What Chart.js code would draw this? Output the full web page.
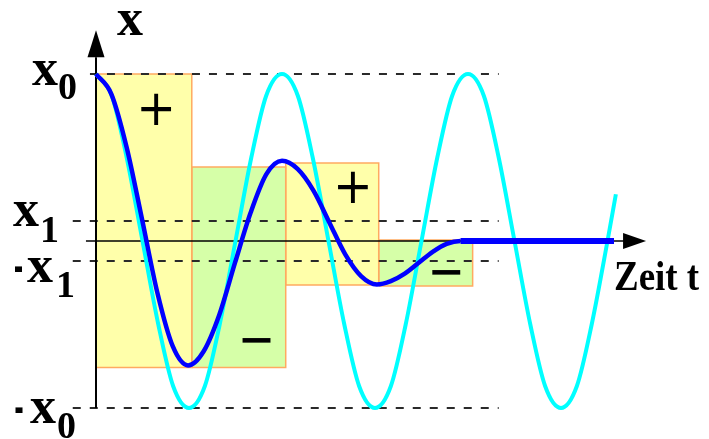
<!DOCTYPE html>
<html>
<head>
<meta charset="utf-8">
<script src="https://cdn.jsdelivr.net/npm/chart.js@4.4.0/dist/chart.umd.min.js"></script>
<style>
  html, body { margin: 0; padding: 0; background: #fff; }
  #wrap { width: 709px; height: 439px; }
</style>
</head>
<body>
<div id="wrap"><canvas id="chart"></canvas></div>
<script>
// Zeit in halben Perioden, Auslenkung in Einheiten von x0
const levels = [1, 0.12, -0.12, -1];
const levelLabels = [['', 'x', '0'], ['', 'x', '1'], ['-', 'x', '1'], ['-', 'x', '0']];

// freie Schwingung ohne Reibung
const freeT = [0, 0.17, 0.33, 0.5, 0.67, 0.83, 1, 1.17, 1.33, 1.5, 1.67, 1.83,
               2, 2.17, 2.33, 2.5, 2.67, 2.83, 3, 3.17, 3.33, 3.5, 3.67, 3.83,
               4, 4.17, 4.33, 4.5, 4.67, 4.83, 5, 5.17, 5.33, 5.5, 5.59];
const freeX = [1, 0.87, 0.5, 0, -0.5, -0.87, -1, -0.87, -0.5, 0, 0.5, 0.87,
               1, 0.87, 0.5, 0, -0.5, -0.87, -1, -0.87, -0.5, 0, 0.5, 0.87,
               1, 0.87, 0.5, 0, -0.5, -0.87, -1, -0.87, -0.5, 0, 0.28];

// Schwingung mit Reibung: Amplitude nimmt je Halbperiode um 2·x1 ab
const dampT = [0, 0.165, 0.33, 0.495, 0.66, 0.825, 0.99, 1.158, 1.327, 1.495, 1.663, 1.832,
               2, 2.17, 2.34, 2.51, 2.68, 2.85, 3.02, 3.17, 3.32, 3.47, 3.62, 3.77, 3.92, 5.57];
const dampX = [1, 0.88, 0.56, 0.13, -0.31, -0.63, -0.745, -0.66, -0.44, -0.13, 0.17, 0.4,
               0.48, 0.43, 0.3, 0.11, -0.08, -0.21, -0.26, -0.24, -0.195, -0.13, -0.065, -0.017, 0, 0];

// Flächen je Halbperiode
const areaT = [[0, 1.03], [1.03, 2.04], [2.04, 3.04], [3.04, 4.05]];
const areaX = [[-0.757, 1], [-0.757, 0.443], [-0.263, 0.467], [-0.269, 0.006]];
const areaSigns = ['+', '\u2212', '+', '\u2212'];

const levelStart = [-0.065, -0.25, -0.25, -0.25];
const levelEnd = 4.33;

const pts = (ts, xs) => ts.map((t, i) => ({ x: t, y: xs[i] }));

const datasets = [];
datasets.push({
  data: pts(dampT, dampX),
  borderColor: '#0000ff',
  borderWidth: 4.5,
  cubicInterpolationMode: 'monotone',
  segment: { borderWidth: c => c.p0.parsed.x >= 3.9 ? 6 : undefined },
  order: 0
});
datasets.push({
  data: pts(freeT, freeX),
  borderColor: '#00ffff',
  borderWidth: 4,
  cubicInterpolationMode: 'monotone',
  order: 1
});
// Achsen
datasets.push({ data: [{ x: 0, y: -1 }, { x: 0, y: 1.1 }], borderColor: '#000', borderWidth: 2, order: 2 });
datasets.push({ data: [{ x: -0.108, y: 0 }, { x: 5.7, y: 0 }], borderColor: '#000', borderWidth: 1.5, order: 2 });
levels.forEach((v, i) => {
  datasets.push({
    data: [{ x: levelStart[i], y: v }, { x: levelEnd, y: v }],
    borderColor: '#2a2a2a',
    borderWidth: 2,
    borderDash: [8, 9],
    order: 3
  });
});
areaT.forEach((t, i) => {
  const [x0, x1] = areaX[i];
  datasets.push({
    data: [{ x: t[0], y: x0 }, { x: t[1], y: x0 }, { x: t[1], y: x1 }, { x: t[0], y: x1 }, { x: t[0], y: x0 }],
    borderColor: '#ffaa60',
    borderWidth: 1.5,
    backgroundColor: i % 2 ? '#d6ffa8' : '#ffffaa',
    fill: 'shape',
    order: 4
  });
});

// Text in ein Rechteck einpassen
function drawFitted(ctx, text, font, cx, cy, w, h) {
  ctx.save();
  ctx.font = font;
  const m = ctx.measureText(text);
  const gw = m.actualBoundingBoxLeft + m.actualBoundingBoxRight;
  const gh = m.actualBoundingBoxAscent + m.actualBoundingBoxDescent;
  ctx.translate(cx, cy);
  ctx.scale(w / gw, h / gh);
  ctx.fillText(text, -(m.actualBoundingBoxRight - m.actualBoundingBoxLeft) / 2,
               (m.actualBoundingBoxAscent - m.actualBoundingBoxDescent) / 2);
  ctx.restore();
}

const signPos = [[0.645, 0.79], [1.73, -0.593], [2.76, 0.323], [3.77, -0.19]];
const labelLayout = [
  { dash: 0, x: 32, base: 11, sub: 58, subBase: 25 },
  { dash: 0, x: 13, base: 5, sub: 40, subBase: 21 },
  { dash: 18.5, x: 27, base: 21, sub: 56, subBase: 36 },
  { dash: 19, x: 30, base: 15, sub: 57, subBase: 30 }
];

const decor = {
  id: 'decor',
  afterDraw(chart) {
    const ctx = chart.ctx;
    const xs = chart.scales.x, ys = chart.scales.y;
    const ox = xs.getPixelForValue(0), oy = ys.getPixelForValue(0);
    ctx.save();
    ctx.fillStyle = '#000';

    // Pfeilspitzen
    const topY = ys.getPixelForValue(1.1);
    ctx.beginPath();
    ctx.moveTo(ox, topY - 27);
    ctx.lineTo(ox + 8.5, topY);
    ctx.lineTo(ox - 8.5, topY);
    ctx.closePath();
    ctx.fill();
    const endX = xs.getPixelForValue(5.667);
    ctx.beginPath();
    ctx.moveTo(endX + 23, oy);
    ctx.lineTo(endX, oy - 8);
    ctx.lineTo(endX, oy + 8);
    ctx.closePath();
    ctx.fill();

    // Beschriftung der Niveaus
    const serif = '"Liberation Serif", "Times New Roman", serif';
    ctx.textAlign = 'left';
    ctx.textBaseline = 'alphabetic';
    levels.forEach((v, i) => {
      const y = ys.getPixelForValue(v);
      const L = labelLayout[i];
      const [pre, main, sub] = levelLabels[i];
      if (pre) drawFitted(ctx, pre, 'bold 44px ' + serif, L.dash, y + L.base - 13.5, 8, 6);
      ctx.font = 'bold 52px ' + serif;
      ctx.fillText(main, L.x, y + L.base);
      ctx.font = 'bold 38px ' + serif;
      ctx.fillText(sub, L.sub, y + L.subBase);
    });

    // Achsentitel
    ctx.font = 'bold 52px ' + serif;
    ctx.fillText('x', 117, 35);
    ctx.save();
    ctx.translate(614, 290);
    ctx.scale(0.88, 1);
    ctx.font = 'bold 42px ' + serif;
    ctx.fillText('Zeit t', 0, 0);
    ctx.restore();

    // Vorzeichen der Flächen
    areaSigns.forEach((s, i) => {
      const cx = xs.getPixelForValue(signPos[i][0]);
      const cy = ys.getPixelForValue(signPos[i][1]);
      if (s === '+') drawFitted(ctx, s, '46px "DejaVu Sans"', cx, cy, 31, 32);
      else drawFitted(ctx, s, 'bold 40px "DejaVu Sans"', cx, cy, 29, 5);
    });
    ctx.restore();
  }
};

new Chart(document.getElementById('chart'), {
  type: 'line',
  data: { datasets },
  options: {
    responsive: true,
    maintainAspectRatio: false,
    animation: false,
    devicePixelRatio: 1,
    layout: { padding: 0 },
    elements: { point: { radius: 0 }, line: { tension: 0 } },
    plugins: { legend: { display: false }, tooltip: { enabled: false } },
    scales: {
      x: { type: 'linear', display: false, min: -1.0323, max: 6.5914 },
      y: { type: 'linear', display: false, min: -1.1856, max: 1.4431 }
    }
  },
  plugins: [decor]
});
</script>
</body>
</html>
